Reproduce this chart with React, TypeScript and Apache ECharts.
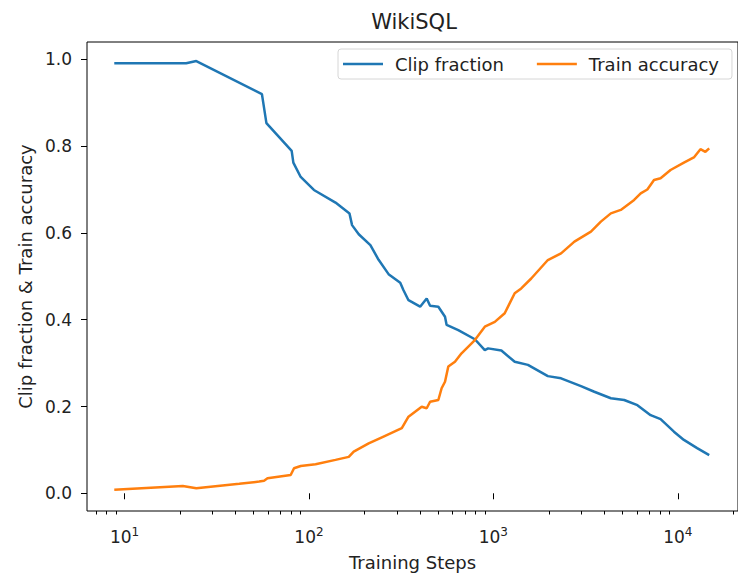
import React, { useEffect, useRef } from "react";
import * as echarts from "echarts";

const clipSteps = [8.8, 21.6, 24.5, 55.6, 58.8, 80.6, 82.3, 90.2, 106.4, 139.3, 165.9, 171.3, 186.2, 215.3, 238.6, 270.2, 312.6, 325.6, 346.5, 400.7, 434.9, 453.7, 503, 546.7, 557.8, 645, 793.6, 898.5, 936, 1105, 1305, 1539, 1974, 2328, 2985, 3525, 4334, 5118, 6038, 7122, 8066, 9528, 10790, 12728, 14800];
const clipValues = [0.991, 0.991, 0.996, 0.92, 0.853, 0.789, 0.762, 0.729, 0.699, 0.67, 0.645, 0.618, 0.597, 0.572, 0.538, 0.505, 0.485, 0.468, 0.445, 0.43, 0.449, 0.432, 0.43, 0.407, 0.388, 0.376, 0.355, 0.33, 0.334, 0.329, 0.303, 0.296, 0.27, 0.265, 0.247, 0.234, 0.219, 0.215, 0.203, 0.18, 0.171, 0.142, 0.123, 0.104, 0.088];

const accSteps = [8.8, 20.7, 24.5, 41.9, 53.7, 57.1, 59.6, 79.6, 83, 90.2, 108.6, 139.3, 164.4, 174.9, 210.8, 248.7, 318.8, 346.5, 408.7, 434.9, 453.7, 503, 524, 546.7, 569.6, 619, 672, 793.6, 898.5, 1018, 1152, 1305, 1416, 1604, 1974, 2328, 2750, 3380, 3826, 4334, 4907, 5797, 6291, 6836, 7430, 8066, 9132, 10790, 12218, 13263, 14110, 14800];
const accValues = [0.008, 0.017, 0.0115, 0.022, 0.027, 0.029, 0.0346, 0.042, 0.0576, 0.063, 0.067, 0.077, 0.084, 0.096, 0.115, 0.129, 0.15, 0.1765, 0.1995, 0.196, 0.211, 0.215, 0.242, 0.257, 0.292, 0.303, 0.3226, 0.353, 0.384, 0.395, 0.415, 0.461, 0.472, 0.495, 0.5376, 0.553, 0.58, 0.603, 0.626, 0.645, 0.653, 0.676, 0.691, 0.7, 0.722, 0.726, 0.745, 0.762, 0.774, 0.793, 0.787, 0.795];

const xMajorTicks = [10, 100, 1000, 10000];
const xMinorTicks = [7, 8, 9, 20, 30, 40, 50, 60, 70, 80, 90, 200, 300, 400, 500, 600, 700, 800, 900, 2000, 3000, 4000, 5000, 6000, 7000, 8000, 9000, 20000];
const yTicks = [0, 0.2, 0.4, 0.6, 0.8, 1.0];

const FONT = "DejaVu Sans";
const TXT = "#222";

export default function App() {
  const ref = useRef<HTMLDivElement>(null);
  useEffect(() => {
    if (!ref.current) return;
    const chart = echarts.init(ref.current, undefined, { renderer: "svg" });
    const xMin = 6.26;
    const xMax = 21200;
    chart.setOption({
      animation: false,
      backgroundColor: "#fff",
      textStyle: { fontFamily: FONT },
      graphic: [
        {
          type: "text",
          x: 414,
          y: 22,
          style: { text: "WikiSQL", font: `21px '${FONT}'`, fill: TXT, align: "center", verticalAlign: "middle" },
        },
      ],
      legend: {
        left: 338,
        top: 49,
        orient: "horizontal",
        padding: [6, 13, 6, 5],
        borderColor: "#d6d6d6",
        borderWidth: 1,
        borderRadius: 3,
        backgroundColor: "rgba(255,255,255,0.8)",
        itemGap: 33,
        itemWidth: 40,
        itemHeight: 2.5,
        icon: "rect",
        textStyle: { fontSize: 18, fontFamily: FONT, color: TXT, padding: [0, 0, 0, 7] },
        data: ["Clip fraction", "Train accuracy"],
      },
      grid: { left: 87, top: 42, width: 654, height: 469, show: true, borderColor: "#000", borderWidth: 1, backgroundColor: "transparent" },
      xAxis: [
        {
          type: "log",
          logBase: 10,
          min: xMin,
          max: xMax,
          position: "bottom",
          name: "Training Steps",
          nameLocation: "middle",
          nameGap: 42,
          nameTextStyle: { fontSize: 18, fontFamily: FONT, color: TXT },
          axisLine: { show: false },
          splitLine: { show: false },
          minorTick: { show: false },
          axisTick: { show: true, length: 6, lineStyle: { color: "#000", width: 1 }, customValues: xMajorTicks },
          axisLabel: {
            customValues: xMajorTicks,
            margin: 15,
            formatter: (v: number) => `{b|10}{s|${Math.round(Math.log10(v))}}`,
            rich: {
              b: { fontSize: 17, fontFamily: FONT, color: TXT },
              s: { fontSize: 12, fontFamily: FONT, color: TXT, padding: [0, 0, 10, 0] },
            },
          },
        },
        {
          type: "log",
          logBase: 10,
          min: xMin,
          max: xMax,
          position: "bottom",
          axisLine: { show: false },
          splitLine: { show: false },
          axisLabel: { show: false, customValues: xMinorTicks },
          axisTick: { show: true, length: 3.5, lineStyle: { color: "#000", width: 1 }, customValues: xMinorTicks },
        },
      ],
      yAxis: {
        type: "value",
        min: -0.0408,
        max: 1.04,
        name: "Clip fraction & Train accuracy",
        nameLocation: "middle",
        nameGap: 52,
        nameTextStyle: { fontSize: 18, fontFamily: FONT, color: TXT },
        axisLine: { show: false },
        splitLine: { show: false },
        axisTick: { show: true, length: 6, lineStyle: { color: "#000", width: 1 }, customValues: yTicks },
        axisLabel: {
          customValues: yTicks,
          margin: 15,
          fontSize: 17,
          fontFamily: FONT,
          color: TXT,
          formatter: (v: number) => v.toFixed(1),
        },
      },
      series: [
        {
          name: "Clip fraction",
          type: "line",
          xAxisIndex: 0,
          showSymbol: false,
          symbol: "none",
          color: "#1f77b4",
          lineStyle: { width: 2.5, color: "#1f77b4" },
          data: clipSteps.map((s, i) => [s, clipValues[i]]),
        },
        {
          name: "Train accuracy",
          type: "line",
          xAxisIndex: 0,
          showSymbol: false,
          symbol: "none",
          color: "#ff7f0e",
          lineStyle: { width: 2.5, color: "#ff7f0e" },
          data: accSteps.map((s, i) => [s, accValues[i]]),
        },
      ],
    });
    return () => chart.dispose();
  }, []);
  return <div ref={ref} style={{ position: "absolute", left: 0, top: 0, width: 738, height: 577 }} />;
}
